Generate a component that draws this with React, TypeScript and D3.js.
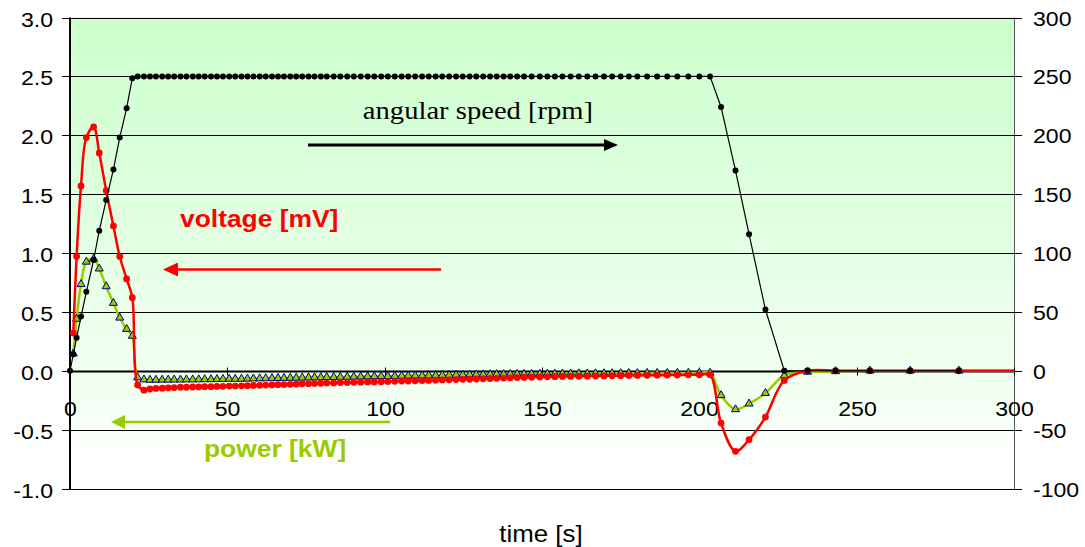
import React, { useEffect, useRef } from "react";
import * as d3 from "d3";

// Sample times of the run [s]
const time: number[] = [
  0, 1.05, 2.1, 3.5, 5.2, 7.5, 9.3, 11.5, 13.8, 15.8, 18.0, 19.8,
  21.5, 23.5, 25.4, 27.3, 29.3, 31.2, 33.1, 35.1, 37.0, 39.0,
  40.9, 42.8, 44.8, 46.7, 48.6, 50.6, 52.5, 54.5, 56.4, 58.3,
  60.3, 62.2, 64.2, 66.1, 68.0, 70.0, 71.9, 73.8, 75.8, 77.7,
  79.7, 81.6,
  83.8, 85.9, 88.1, 90.2, 92.4, 94.6, 96.7, 98.9, 101.0, 103.2,
  105.4, 107.5, 109.7, 111.9, 114.0, 116.2, 118.3, 120.5, 122.7, 124.8,
  127.0, 129.1, 131.3, 133.5, 135.6, 137.8, 139.9, 142.1, 144.3,
  146.7, 149.3, 151.7, 154.1, 156.5, 159.1, 161.7, 164.4, 167.0, 169.7,
  172.3, 175.0, 177.6, 180.3, 183.4, 186.6, 189.8, 193.0, 196.5, 200.0,
  203.4,
  206.9, 211.5, 215.8, 221.0, 227.0, 234.4, 243.3, 254.2, 267.0, 282.5,
];

// Angular speed [rpm] (right axis)
const speed: number[] = [
  0, 14, 28, 46, 67, 94, 119, 145, 171, 198, 223, 248.5,
  250, 250, 250, 250, 250, 250, 250, 250, 250, 250,
  250, 250, 250, 250, 250, 250, 250, 250, 250, 250,
  250, 250, 250, 250, 250, 250, 250, 250, 250, 250,
  250, 250, 250, 250, 250, 250, 250, 250, 250, 250,
  250, 250, 250, 250, 250, 250, 250, 250, 250, 250,
  250, 250, 250, 250, 250, 250, 250, 250, 250, 250,
  250, 250, 250, 250, 250, 250, 250, 250, 250, 250,
  250, 250, 250, 250, 250, 250, 250, 250, 250, 250,
  250, 250,
  224, 170, 116, 52, 0, 0, 0, 0, 0, 0,
];

// Generator voltage [mV] (left axis)
const voltage: (number | null)[] = [
  null, 0.32, 0.97, 1.57, 1.98, 2.07, 1.85, 1.53, 1.23, 0.97, 0.78, 0.62,
  -0.12, -0.165, -0.155, -0.15, -0.148, -0.145, -0.143, -0.14, -0.14, -0.138,
  -0.137, -0.135, -0.135, -0.133, -0.132, -0.13, -0.13, -0.128, -0.127, -0.125,
  -0.124, -0.122, -0.12, -0.118, -0.117, -0.115, -0.113, -0.11, -0.11, -0.108,
  -0.106, -0.105,
  -0.103, -0.1, -0.1, -0.098, -0.097, -0.095, -0.095, -0.093, -0.092, -0.09,
  -0.088, -0.087, -0.085, -0.083, -0.082, -0.08, -0.078, -0.077, -0.075, -0.073,
  -0.072, -0.07, -0.068, -0.066, -0.064, -0.062, -0.06, -0.058, -0.057,
  -0.055, -0.053, -0.052, -0.05, -0.049, -0.048, -0.047, -0.046, -0.045, -0.044,
  -0.043, -0.042, -0.041, -0.04, -0.039, -0.038, -0.037, -0.036, -0.035, -0.035,
  -0.034,
  -0.444, -0.684, -0.585, -0.393, -0.082, 0.0, 0.0, 0.0, 0.0, 0.0,
];

// Electrical power [kW] (left axis)
const power: (number | null)[] = [
  null, 0.145, 0.44, 0.735, 0.925, 0.95, 0.867, 0.716, 0.575, 0.45, 0.354, 0.295,
  -0.058, -0.075, -0.078, -0.078, -0.077, -0.077, -0.076, -0.076, -0.075, -0.075,
  -0.074, -0.073, -0.073, -0.072, -0.071, -0.07, -0.07, -0.069, -0.068, -0.067,
  -0.066, -0.065, -0.064, -0.063, -0.062, -0.061, -0.06, -0.059, -0.058, -0.057,
  -0.056, -0.055,
  -0.054, -0.053, -0.052, -0.051, -0.05, -0.049, -0.048, -0.047, -0.046, -0.045,
  -0.044, -0.043, -0.042, -0.041, -0.04, -0.039, -0.038, -0.037, -0.036, -0.035,
  -0.034, -0.033, -0.032, -0.031, -0.03, -0.03, -0.029, -0.028, -0.028,
  -0.027, -0.027, -0.026, -0.026, -0.025, -0.025, -0.024, -0.024, -0.023, -0.023,
  -0.022, -0.022, -0.021, -0.021, -0.02, -0.02, -0.02, -0.019, -0.019, -0.018,
  -0.018,
  -0.209, -0.328, -0.28, -0.19, -0.04, -0.01, -0.005, 0, 0, 0,
];

// The electrical traces run on flat to the end of the record
const tailTime = 300;
const voltageTail = 0;
const powerTail = 0;

const leftTicks = [-1, -0.5, 0, 0.5, 1, 1.5, 2, 2.5, 3];
const leftTickLabels = ["-1.0", "-0.5", "0.0", "0.5", "1.0", "1.5", "2.0", "2.5", "3.0"];
const rightTicks = [-100, -50, 0, 50, 100, 150, 200, 250, 300];
const xTicks = [0, 50, 100, 150, 200, 250, 300];

type Pt = { t: number; v: number | null };

export default function App() {
  const ref = useRef<SVGSVGElement>(null);

  useEffect(() => {
    const svg = d3.select(ref.current);
    svg.selectAll("*").remove();

    const left = 70, right = 1014, top = 17.5, bottom = 488.5;
    const x = d3.scaleLinear().domain([0, 300]).range([left, right]);
    const yL = d3.scaleLinear().domain([-1, 3]).range([bottom, top]);
    const yR = d3.scaleLinear().domain([-100, 300]).range([bottom, top]);

    const SANS = "'Liberation Sans', Arial, sans-serif";
    const SERIF = "'Liberation Serif', 'Times New Roman', serif";
    const SX = 1.1;

    const text = (
      g: d3.Selection<any, any, any, any>,
      tx: number,
      ty: number,
      str: string,
      size: number,
      anchor: string,
      fill = "#000",
      weight = "normal",
      family = SANS,
    ) =>
      g
        .append("text")
        .attr("transform", `translate(${tx},${ty}) scale(${SX},1)`)
        .attr("text-anchor", anchor)
        .attr("font-family", family)
        .attr("font-size", size)
        .attr("font-weight", weight)
        .attr("fill", fill)
        .text(str);

    // Plot background
    const defs = svg.append("defs");
    const grad = defs
      .append("linearGradient")
      .attr("id", "plotBg")
      .attr("x1", 0).attr("y1", 0).attr("x2", 0).attr("y2", 1);
    grad.append("stop").attr("offset", 0).attr("stop-color", "#ccffcc");
    grad.append("stop").attr("offset", 0.9).attr("stop-color", "#f8fff8");
    grad.append("stop").attr("offset", 0.9).attr("stop-color", "#ffffff");
    grad.append("stop").attr("offset", 1).attr("stop-color", "#ffffff");
    svg
      .append("rect")
      .attr("x", left).attr("y", top)
      .attr("width", right - left).attr("height", bottom - top)
      .attr("fill", "url(#plotBg)");

    // Horizontal gridlines
    const grid = svg.append("g");
    leftTicks.forEach((v) => {
      grid
        .append("line")
        .attr("x1", left).attr("x2", right)
        .attr("y1", Math.round(yL(v)) + 0.5).attr("y2", Math.round(yL(v)) + 0.5)
        .attr("stroke", "#000").attr("stroke-width", 1);
    });

    // Left axis
    const axL = svg.append("g");
    axL.append("line")
      .attr("x1", left).attr("x2", left).attr("y1", top).attr("y2", bottom + 0.5)
      .attr("stroke", "#000").attr("stroke-width", 2);
    leftTicks.forEach((v, i) => {
      const yy = Math.round(yL(v)) + 0.5;
      axL.append("line").attr("x1", left - 8).attr("x2", left).attr("y1", yy).attr("y2", yy)
        .attr("stroke", "#000").attr("stroke-width", 1);
      text(axL, 53, yy + 8.5, leftTickLabels[i], 21, "end");
    });

    // Right axis
    const axR = svg.append("g");
    axR.append("line")
      .attr("x1", right + 0.5).attr("x2", right + 0.5).attr("y1", top).attr("y2", bottom + 0.5)
      .attr("stroke", "#555").attr("stroke-width", 1);
    rightTicks.forEach((v) => {
      const yy = Math.round(yR(v)) + 0.5;
      axR.append("line").attr("x1", right - 7).attr("x2", right + 8).attr("y1", yy).attr("y2", yy)
        .attr("stroke", "#000").attr("stroke-width", 1);
      text(axR, 1033, yy + 7.5, String(v), 21, "start");
    });

    // Time axis along zero
    const axX = svg.append("g");
    const y0 = Math.round(yL(0)) + 0.5;
    axX.append("line").attr("x1", left).attr("x2", right).attr("y1", y0).attr("y2", y0)
      .attr("stroke", "#000").attr("stroke-width", 2);
    xTicks.forEach((t) => {
      const xx = Math.round(x(t)) + 0.5;
      axX.append("line").attr("x1", xx).attr("x2", xx).attr("y1", y0 - 4).attr("y2", y0 + 4)
        .attr("stroke", "#000").attr("stroke-width", 1);
      text(axX, xx, 416, String(t), 21, "middle");
    });
    text(svg, 541, 542, "time [s]", 23.5, "middle");

    // Series
    const vPts: Pt[] = time.map((t, i) => ({ t, v: voltage[i] }));
    const pPts: Pt[] = time.map((t, i) => ({ t, v: power[i] }));
    const sPts: Pt[] = time.map((t, i) => ({ t, v: speed[i] }));
    const vLinePts = [...vPts, { t: tailTime, v: voltageTail }];
    const pLinePts = [...pPts, { t: tailTime, v: powerTail }];

    const smooth = d3
      .line<Pt>()
      .defined((d) => d.v != null)
      .x((d) => x(d.t))
      .y((d) => yL(d.v as number))
      .curve(d3.curveCatmullRom.alpha(0.5));
    const straightR = d3
      .line<Pt>()
      .x((d) => x(d.t))
      .y((d) => yR(d.v as number));

    // power
    const gP = svg.append("g");
    gP.append("path").attr("d", smooth(pLinePts)).attr("fill", "none")
      .attr("stroke", "#99cc00").attr("stroke-width", 2.5).attr("stroke-linejoin", "round");
    const tri = d3.symbol().type(d3.symbolTriangle).size(28);
    gP.selectAll("path.m")
      .data(pPts.filter((d) => d.v != null))
      .join("path")
      .attr("class", "m")
      .attr("d", tri() as string)
      .attr("transform", (d) => `translate(${x(d.t)},${yL(d.v as number)})`)
      .attr("fill", "#99cc00").attr("stroke", "#000080").attr("stroke-width", 1);

    // voltage
    const gV = svg.append("g");
    gV.append("path").attr("d", smooth(vLinePts)).attr("fill", "none")
      .attr("stroke", "#ff0000").attr("stroke-width", 2.5).attr("stroke-linejoin", "round");
    gV.selectAll("circle")
      .data(vPts.filter((d) => d.v != null))
      .join("circle")
      .attr("cx", (d) => x(d.t)).attr("cy", (d) => yL(d.v as number))
      .attr("r", 3.4).attr("fill", "#ff0000");

    // angular speed
    const gS = svg.append("g");
    gS.append("path").attr("d", straightR(sPts)).attr("fill", "none")
      .attr("stroke", "#000").attr("stroke-width", 1.2);
    gS.selectAll("circle")
      .data(sPts)
      .join("circle")
      .attr("cx", (d) => x(d.t)).attr("cy", (d) => yR(d.v as number))
      .attr("r", 3).attr("fill", "#000");

    // Annotations
    const arrow = (x1: number, x2: number, yy: number, color: string, w: number, head: number, half: number) => {
      const dir = Math.sign(x2 - x1);
      const base = x2 - dir * head;
      svg.append("line").attr("x1", x1).attr("x2", base).attr("y1", yy).attr("y2", yy)
        .attr("stroke", color).attr("stroke-width", w);
      svg.append("path")
        .attr("d", `M${x2},${yy} L${base},${yy - half} L${base},${yy + half} Z`)
        .attr("fill", color);
    };
    arrow(308, 618, 145, "#000", 3, 14, 6);
    text(svg, 478, 119, "angular speed [rpm]", 26, "middle", "#000", "normal", SERIF);
    arrow(441, 163, 269.5, "#ff0000", 2.5, 15, 7);
    text(svg, 180, 227, "voltage [mV]", 24, "start", "#ff0000", "bold");
    arrow(390, 111, 422, "#99cc00", 2.5, 14, 7);
    text(svg, 204, 457, "power [kW]", 24, "start", "#99cc00", "bold");
  }, []);

  return (
    <svg
      ref={ref}
      width={1085}
      height={547}
      style={{ position: "absolute", left: 0, top: 0, background: "#fff" }}
    />
  );
}
